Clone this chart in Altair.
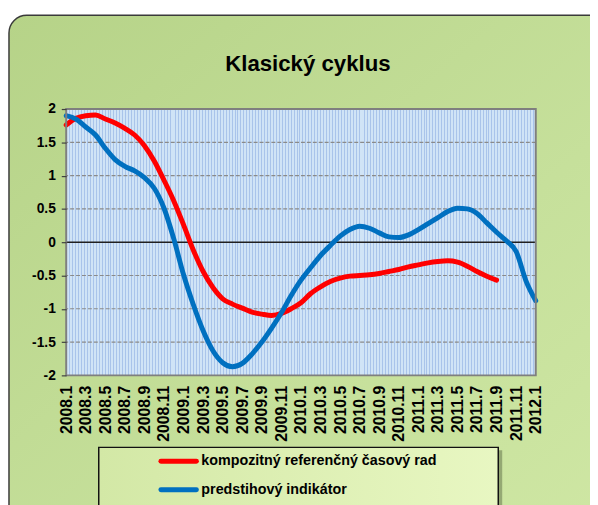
import altair as alt
import pandas as pd

# ---------------- data ----------------
months = [
    "2008.1", "2008.2", "2008.3", "2008.4", "2008.5", "2008.6", "2008.7", "2008.8", "2008.9", "2008.10", "2008.11", "2008.12",
    "2009.1", "2009.2", "2009.3", "2009.4", "2009.5", "2009.6", "2009.7", "2009.8", "2009.9", "2009.10", "2009.11", "2009.12",
    "2010.1", "2010.2", "2010.3", "2010.4", "2010.5", "2010.6", "2010.7", "2010.8", "2010.9", "2010.10", "2010.11", "2010.12",
    "2011.1", "2011.2", "2011.3", "2011.4", "2011.5", "2011.6", "2011.7", "2011.8", "2011.9", "2011.10", "2011.11", "2011.12",
    "2012.1",
]
x_tick_labels = [
    "2008.1", "2008.3", "2008.5", "2008.7", "2008.9", "2008.11",
    "2009.1", "2009.3", "2009.5", "2009.7", "2009.9", "2009.11",
    "2010.1", "2010.3", "2010.5", "2010.7", "2010.9", "2010.11",
    "2011.1", "2011.3", "2011.5", "2011.7", "2011.9", "2011.11",
    "2012.1",
]
red_values = [
    1.76, 1.86, 1.90, 1.91, 1.85, 1.79, 1.71, 1.61, 1.45, 1.22,
    0.93, 0.62, 0.26, -0.12, -0.44, -0.68, -0.85, -0.93, -0.99, -1.05,
    -1.08, -1.10, -1.07, -1.00, -0.91, -0.77, -0.67, -0.59, -0.54, -0.51,
    -0.50, -0.49, -0.47, -0.44, -0.41, -0.37, -0.34, -0.31, -0.29, -0.28,
    -0.30, -0.36, -0.44, -0.51, -0.57,
]
blue_values = [
    1.90, 1.85, 1.73, 1.61, 1.41, 1.24, 1.14, 1.07, 0.97, 0.81,
    0.51, 0.05, -0.49, -0.94, -1.33, -1.63, -1.81, -1.87, -1.82, -1.68,
    -1.50, -1.29, -1.06, -0.80, -0.57, -0.38, -0.20, -0.05, 0.09, 0.19,
    0.24, 0.21, 0.14, 0.08, 0.07, 0.11, 0.19, 0.28, 0.37, 0.46,
    0.51, 0.50, 0.43, 0.29, 0.15, 0.02, -0.14, -0.58, -0.88,
]
y_ticks = [-2, -1.5, -1, -0.5, 0, 0.5, 1, 1.5, 2]
grid_values = [-1.5, -1, -0.5, 0.5, 1, 1.5]
series_names = ["kompozitný referenčný časový rad", "predstihový indikátor"]
series_colors = ["#ff0000", "#0070c0"]
title_text = "Klasický cyklus"

red_df = pd.DataFrame({"month": months[:len(red_values)], "value": red_values})
blue_df = pd.DataFrame({"month": months, "value": blue_values})
grid_df = pd.DataFrame({"value": grid_values})
zero_df = pd.DataFrame({"value": [0]})
one = pd.DataFrame({"a": [0]})

W, H = 476, 270
FONT = "Liberation Sans"

# ---------------- styles ----------------
def lin_grad(stops):
    return {"gradient": "linear", "x1": 0, "x2": 1, "y1": 0, "y2": 0,
            "stops": [{"offset": o, "color": c} for o, c in stops]}

panel_grad = {"gradient": "linear", "x1": 0, "x2": 1, "y1": 0, "y2": 1,
              "stops": [{"offset": 0, "color": "#b6d388"},
                        {"offset": 0.6, "color": "#c6e09b"},
                        {"offset": 1, "color": "#cfe7a4"}]}
legend_grad = lin_grad([(0, "#d3e8a6"), (1, "#e8f7c2")])

N = 159
dark, light = "#a9c4ea", "#d0e4f6"
stripe_stops = []
for i in range(N):
    a = i / N
    b = (i + 1 / 3) / N
    c = (i + 1) / N
    stripe_stops += [(a, dark), (b, dark), (b, light), (c, light)]
stripe_grad = lin_grad(stripe_stops)

x_enc = alt.X(
    "month:O",
    scale=alt.Scale(type="point", domain=months, padding=0),
    axis=alt.Axis(values=x_tick_labels, labelAngle=270, labelFont=FONT, labelFontSize=16,
                  labelFontWeight="bold", labelColor="black", ticks=True, tickSize=0,
                  labelPadding=10, domain=False, grid=False, title=None, zindex=1,
                  labelOverlap=False),
)
y_enc = alt.Y(
    "value:Q",
    scale=alt.Scale(domain=[-2, 2], nice=False, zero=False),
    axis=alt.Axis(values=y_ticks, labelExpr="toString(datum.value)", labelFont=FONT,
                  labelFontSize=14, labelFontWeight="bold", labelColor="black",
                  ticks=True, tickSize=5, tickColor="#404040", tickWidth=1.2,
                  labelPadding=6, domain=False, grid=False, title=None, zindex=1),
)

# ---------------- layers ----------------
panel = alt.Chart(one).mark_rect(cornerRadius=18, stroke="#3a3a3a", strokeWidth=1.5,
                                 fill=panel_grad).encode(
    x=alt.value(-58), x2=alt.value(560), y=alt.value(-95), y2=alt.value(440))

legend_shadow = alt.Chart(one).mark_rect(color="#2f3a20", opacity=0.35).encode(
    x=alt.value(36), x2=alt.value(442), y=alt.value(346), y2=alt.value(440))
legend_box = alt.Chart(one).mark_rect(fill=legend_grad, stroke="#111111", strokeWidth=1.5).encode(
    x=alt.value(33), x2=alt.value(438), y=alt.value(343), y2=alt.value(440))

stripes = alt.Chart(one).mark_rect(fill=stripe_grad).encode(
    x=alt.value(0), x2=alt.value(W), y=alt.value(0), y2=alt.value(H))

grid = alt.Chart(grid_df).mark_rule(color="#8a8a8a", strokeWidth=1.2, strokeDash=[4, 2]).encode(y=y_enc)
zero = alt.Chart(zero_df).mark_rule(color="#202020", strokeWidth=1.5).encode(y=y_enc)

red_line = alt.Chart(red_df).mark_line(color=series_colors[0], strokeWidth=5,
                                       interpolate="monotone", strokeCap="round").encode(x=x_enc, y=y_enc)
blue_line = alt.Chart(blue_df).mark_line(color=series_colors[1], strokeWidth=5,
                                         interpolate="monotone", strokeCap="round").encode(x=x_enc, y=y_enc)

border = alt.Chart(one).mark_rect(fill="transparent", stroke="#7f7f7f", strokeWidth=2).encode(
    x=alt.value(0), x2=alt.value(W), y=alt.value(0), y2=alt.value(H))

legend_layers = []
for i, (name, col) in enumerate(zip(series_names, series_colors)):
    yy = 357 + i * 29
    legend_layers.append(alt.Chart(one).mark_rule(color=col, strokeWidth=5, strokeCap="round").encode(
        x=alt.value(96), x2=alt.value(132), y=alt.value(yy)))
    legend_layers.append(alt.Chart(one).mark_text(align="left", baseline="middle", font=FONT,
                                                  fontSize=14.5, fontWeight="bold", color="black").encode(
        x=alt.value(137), y=alt.value(yy), text=alt.value(name)))

title = alt.Chart(one).mark_text(align="center", baseline="alphabetic", font=FONT,
                                 fontSize=22.5, fontWeight="bold", color="black").encode(
    x=alt.value(245), y=alt.value(-39), text=alt.value(title_text))

chart = alt.layer(
    panel, legend_shadow, legend_box, stripes, grid, zero, red_line, blue_line, border,
    *legend_layers, title,
).properties(
    width=W, height=H,
    autosize=alt.AutoSizeParams(type="none"),
    padding={"left": 59, "top": 99, "right": 55, "bottom": 128},
).configure_view(stroke="transparent")

chart.save("out.html", embed_options={"renderer": "svg", "actions": False})
